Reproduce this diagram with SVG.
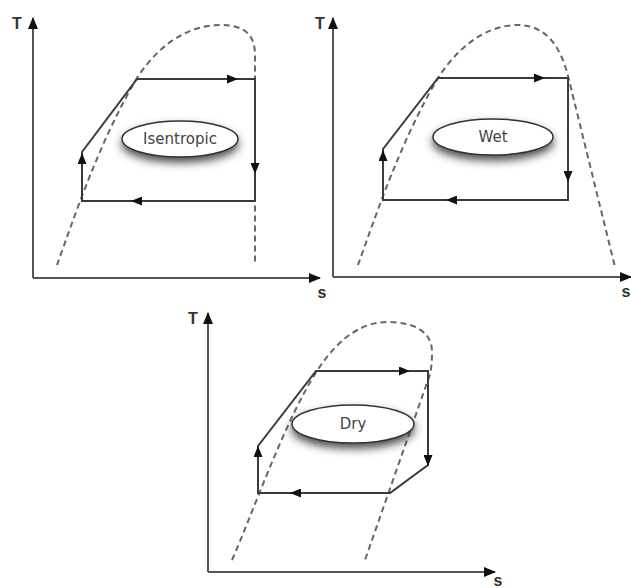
<svg xmlns="http://www.w3.org/2000/svg" width="631" height="588" viewBox="0 0 631 588">
<style>
.axis{stroke:#555;stroke-width:2;fill:none}
.cyc{stroke:#3a3a3a;stroke-width:2;fill:none}
.dash{stroke:#666;stroke-width:2;fill:none;stroke-dasharray:6 4}
.lbl{font-family:"Liberation Sans",Arial,sans-serif;font-size:16px;font-weight:bold;fill:#333}
.ell{fill:#fff;stroke:#333;stroke-width:1.5;filter:url(#sh)}
.et{font-family:"DejaVu Sans","Liberation Sans",sans-serif;font-size:15px;fill:#444;text-anchor:middle}
</style>
<defs>
<marker id="ax" viewBox="0 0 12 10" refX="11" refY="5" markerWidth="12" markerHeight="10" markerUnits="userSpaceOnUse" orient="auto"><path d="M0,0 L12,5 L0,10 z" fill="#111"/></marker>
<marker id="ah" viewBox="0 0 11 9" refX="11" refY="4.5" markerWidth="11" markerHeight="9" markerUnits="userSpaceOnUse" orient="auto"><path d="M0,0 L11,4.5 L0,9 z" fill="#111"/></marker>
<filter id="sh" x="-30%" y="-40%" width="160%" height="200%"><feDropShadow dx="0" dy="5" stdDeviation="4" flood-color="#333" flood-opacity="0.85"/></filter>
</defs>

<g id="panel-isentropic">
<g id="axes1">
<path class="axis" d="M33,278 L33,18" marker-end="url(#ax)"/>
<path class="axis" d="M33,278 L320,278" marker-end="url(#ax)"/>
<text class="lbl" x="17" y="29" text-anchor="middle">T</text>
<text class="lbl" x="322" y="298" text-anchor="middle">s</text>
</g>
<path id="dome1" class="dash" d="M57,265 C75,215 100,140 137,78 C165,35 198,25 220,25 C245,25 255,35 255,55 L255,265"/>
<g id="cycle1">
<path class="cyc" d="M82,152 L137,79 L255,79 L255,201 L82,201 Z"/>
<path class="cyc" d="M137,79 L238,79" marker-end="url(#ah)"/>
<path class="cyc" d="M255,79 L255,174" marker-end="url(#ah)"/>
<path class="cyc" d="M255,201 L131,201" marker-end="url(#ah)"/>
<path class="cyc" d="M82,201 L82,153" marker-end="url(#ah)"/>
</g>
<g id="node-isentropic">
<ellipse class="ell" cx="180" cy="139" rx="58" ry="18"/>
<text class="et" x="180" y="144">Isentropic</text>
</g>
</g>

<g id="panel-wet">
<g id="axes2">
<path class="axis" d="M333,277 L333,18" marker-end="url(#ax)"/>
<path class="axis" d="M333,277 L631,277" marker-end="url(#ax)"/>
<text class="lbl" x="320" y="29" text-anchor="middle">T</text>
<text class="lbl" x="626" y="297" text-anchor="middle">s</text>
</g>
<path id="dome2" class="dash" d="M358,265 C376,215 401,140 438,78 C466,35 497,25 518,25 C545,25 561,45 569,80 L615,267"/>
<g id="cycle2">
<path class="cyc" d="M383,149 L438,78 L568,78 L568,200 L383,200 Z"/>
<path class="cyc" d="M438,78 L545,78" marker-end="url(#ah)"/>
<path class="cyc" d="M568,78 L568,182" marker-end="url(#ah)"/>
<path class="cyc" d="M568,200 L446,200" marker-end="url(#ah)"/>
<path class="cyc" d="M383,200 L383,150" marker-end="url(#ah)"/>
</g>
<g id="node-wet">
<ellipse class="ell" cx="493" cy="137" rx="60" ry="18"/>
<text class="et" x="493" y="142">Wet</text>
</g>
</g>

<g id="panel-dry">
<g id="axes3">
<path class="axis" d="M208,572 L208,313" marker-end="url(#ax)"/>
<path class="axis" d="M208,572 L495,572" marker-end="url(#ax)"/>
<text class="lbl" x="193" y="324" text-anchor="middle">T</text>
<text class="lbl" x="498" y="586" text-anchor="middle">s</text>
</g>
<path id="dome3" class="dash" d="M232,560 C252,515 285,420 317,371 C340,335 365,322 387,322 C415,322 432,332 432,352 Q432,372 428,380 L365,560"/>
<g id="cycle3">
<path class="cyc" d="M258,446 L316,371 L428,371 L428,465 L390,493 L258,493 Z"/>
<path class="cyc" d="M316,371 L410,371" marker-end="url(#ah)"/>
<path class="cyc" d="M428,371 L428,466" marker-end="url(#ah)"/>
<path class="cyc" d="M390,493 L290,493" marker-end="url(#ah)"/>
<path class="cyc" d="M258,493 L258,446" marker-end="url(#ah)"/>
</g>
<g id="node-dry">
<ellipse class="ell" cx="353" cy="424" rx="61" ry="19"/>
<text class="et" x="353" y="429">Dry</text>
</g>
</g>
</svg>
